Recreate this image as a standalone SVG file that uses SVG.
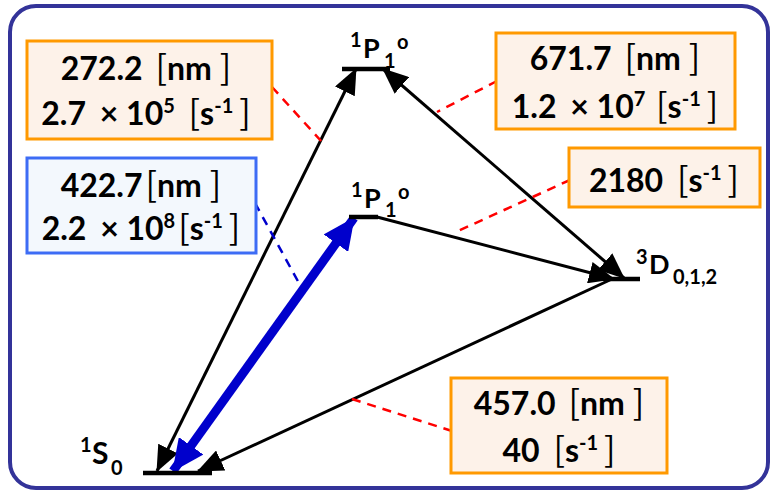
<svg xmlns="http://www.w3.org/2000/svg" width="771" height="491" viewBox="0 0 771 491">
<defs>
<style>
.frame{fill:#ffffff;stroke:#333399;stroke-width:4}
.ob{fill:#fdf2e9;stroke:#ff9900;stroke-width:3}
.bb{fill:#f3f8fd;stroke:#3d6cf5;stroke-width:3}
.t{font-family:Lato,"Open Sans","Liberation Sans",sans-serif;font-weight:700;font-size:32px;fill:#000;text-anchor:middle}
.br{font-family:"Noto Sans CJK JP",sans-serif;font-weight:400;font-size:34px}
.sp{font-size:20px}
.lab{font-family:Lato,"Open Sans","Liberation Sans",sans-serif;font-weight:700;fill:#000;font-size:20px}
.big{font-size:27px}
.lv{stroke:#000;stroke-width:4.5;fill:none}
.ar{stroke:#000;stroke-width:3;fill:none}
.blue{stroke:#0000cc;stroke-width:9;fill:none}
.rd{stroke:#ff0000;stroke-width:2.5;stroke-dasharray:9 7;fill:none}
.bd{stroke:#0000cc;stroke-width:2.5;stroke-dasharray:9 7;fill:none}
</style>
<marker id="ah" markerUnits="userSpaceOnUse" markerWidth="26" markerHeight="22" viewBox="0 0 26 22" refX="25" refY="11" orient="auto-start-reverse">
<path d="M0,0 L26,11 L0,22 z" fill="#000"/>
</marker>
<marker id="ahb" markerUnits="userSpaceOnUse" markerWidth="32" markerHeight="30" viewBox="0 0 32 30" refX="31" refY="15" orient="auto-start-reverse">
<path d="M0,0 L32,15 L0,30 z" fill="#0000cc"/>
</marker>
</defs>

<rect class="frame" x="10" y="6" width="758" height="482" rx="26"/>

<g id="connectors">
<line class="ar" x1="157" y1="471" x2="356" y2="69" marker-start="url(#ah)" marker-end="url(#ah)"/>
<line class="blue" x1="173" y1="471" x2="354" y2="218" marker-start="url(#ahb)" marker-end="url(#ahb)"/>
<line class="ar" x1="377" y1="217" x2="614" y2="279" marker-end="url(#ah)"/>
<line class="ar" x1="624" y1="278" x2="383" y2="69" marker-start="url(#ah)" marker-end="url(#ah)"/>
<line class="ar" x1="612" y1="279" x2="198" y2="471" marker-end="url(#ah)"/>
<line class="rd" x1="272" y1="87" x2="322" y2="142"/>
<line class="rd" x1="497" y1="81" x2="437" y2="112"/>
<line class="rd" x1="570" y1="180" x2="458" y2="231"/>
<line class="bd" x1="255" y1="203" x2="300" y2="285"/>
<line class="rd" x1="452" y1="431" x2="352" y2="399"/>
</g>

<g id="level-1P1-upper">
<line class="lv" x1="342" y1="69" x2="390" y2="69"/>
<text class="lab"><tspan x="350" y="47">1</tspan><tspan class="big" x="363" y="58">P</tspan><tspan x="384" y="68">1</tspan><tspan x="397" y="49">o</tspan></text>
</g>

<g id="level-1P1-lower">
<line class="lv" x1="349" y1="217" x2="378" y2="217"/>
<text class="lab"><tspan x="351" y="197">1</tspan><tspan class="big" x="364" y="208">P</tspan><tspan x="385" y="217">1</tspan><tspan x="398" y="199">o</tspan></text>
</g>

<g id="level-3D">
<line class="lv" x1="603" y1="279" x2="640" y2="279"/>
<text class="lab"><tspan x="636" y="264">3</tspan><tspan class="big" x="649" y="274">D</tspan><tspan x="673" y="284">0,1,2</tspan></text>
</g>

<g id="level-1S0">
<line class="lv" x1="143" y1="473" x2="212" y2="473"/>
<text class="lab"><tspan x="80" y="452">1</tspan><tspan x="92" y="464" font-size="30">S</tspan><tspan x="111" y="475">0</tspan></text>
</g>

<g id="box-272">
<rect class="ob" x="27" y="41" width="245" height="98"/>
<text class="t" x="146" y="80">272.2 <tspan class="br" dx="5">[</tspan>nm<tspan class="br" dx="8">]</tspan></text>
<text class="t" x="146" y="125">2.7<tspan dx="6"> × </tspan>10<tspan class="sp" dy="-12">5</tspan><tspan dy="12"> </tspan><tspan class="br" dx="6">[</tspan>s<tspan class="sp" dy="-12">-1</tspan><tspan class="br" dy="12" dx="6">]</tspan></text>
</g>

<g id="box-422">
<rect class="bb" x="27" y="158" width="229" height="95"/>
<text class="t" x="141" y="197">422.7<tspan class="br" dx="3">[</tspan>nm<tspan class="br" dx="8">]</tspan></text>
<text class="t" x="141" y="240">2.2<tspan dx="6"> × </tspan>10<tspan class="sp" dy="-12">8</tspan><tspan class="br" dy="12" dx="3">[</tspan>s<tspan class="sp" dy="-12">-1</tspan><tspan class="br" dy="12" dx="6">]</tspan></text>
</g>

<g id="box-671">
<rect class="ob" x="496" y="33" width="239" height="96"/>
<text class="t" x="615" y="70">671.7 <tspan class="br" dx="5">[</tspan>nm<tspan class="br" dx="8">]</tspan></text>
<text class="t" x="615" y="118">1.2<tspan dx="6"> × </tspan>10<tspan class="sp" dy="-12">7</tspan><tspan dy="12"> </tspan><tspan class="br" dx="3">[</tspan>s<tspan class="sp" dy="-12">-1</tspan><tspan class="br" dy="12" dx="6">]</tspan></text>
</g>

<g id="box-2180">
<rect class="ob" x="569" y="148" width="191" height="59"/>
<text class="t" x="664" y="192">2180 <tspan class="br" dx="6">[</tspan>s<tspan class="sp" dy="-12">-1</tspan><tspan class="br" dy="12" dx="6">]</tspan></text>
</g>

<g id="box-457">
<rect class="ob" x="451" y="378" width="216" height="95"/>
<text class="t" x="559" y="415">457.0 <tspan class="br" dx="5">[</tspan>nm<tspan class="br" dx="8">]</tspan></text>
<text class="t" x="559" y="462">40 <tspan class="br" dx="6">[</tspan>s<tspan class="sp" dy="-12">-1</tspan><tspan class="br" dy="12" dx="6">]</tspan></text>
</g>
</svg>
